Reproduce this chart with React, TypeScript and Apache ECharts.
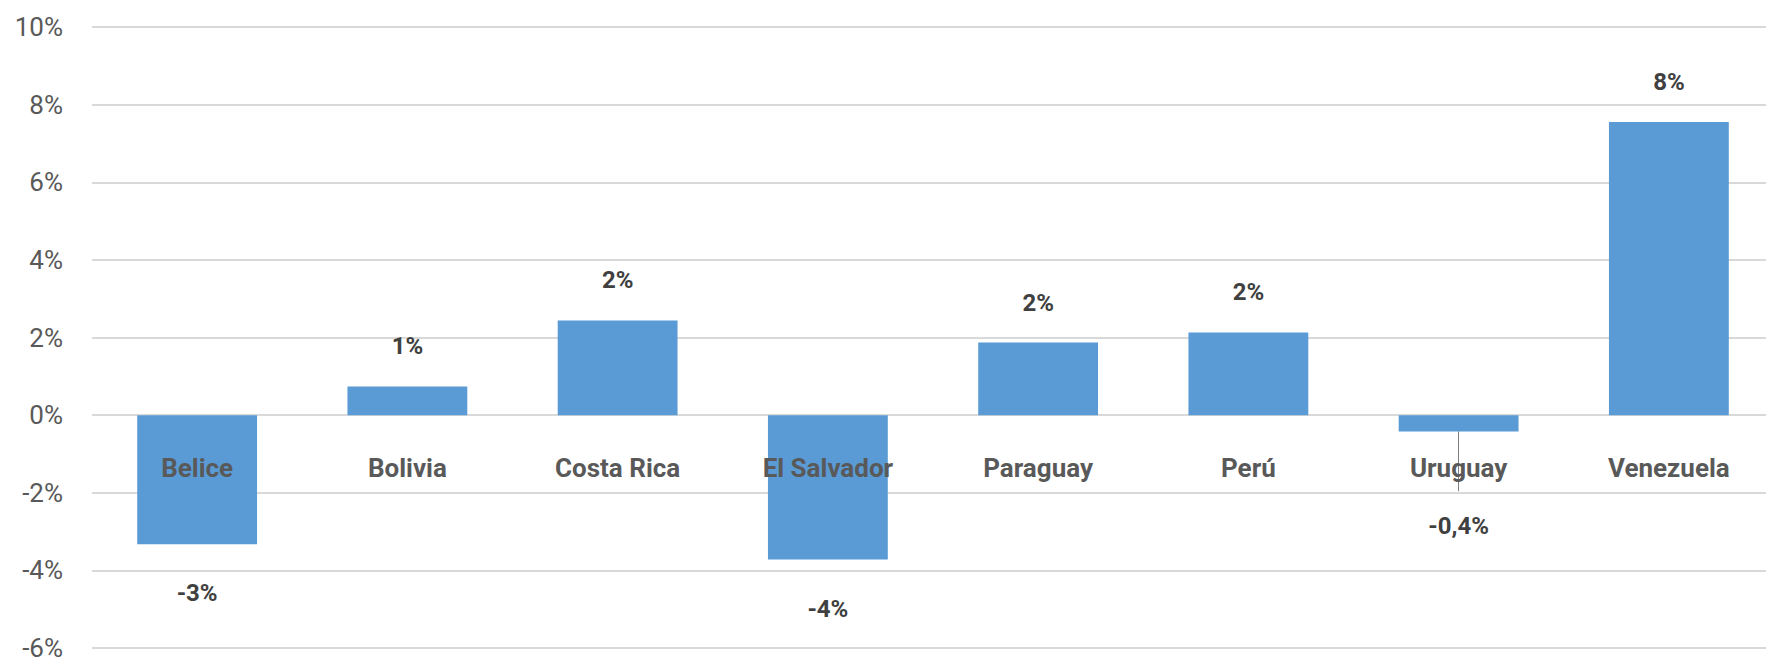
import React, { useEffect, useRef } from "react";
import * as echarts from "echarts";

const categories = ["Belice", "Bolivia", "Costa Rica", "El Salvador", "Paraguay", "Perú", "Uruguay", "Venezuela"];
const values = [-3.33, 0.74, 2.44, -3.72, 1.87, 2.13, -0.42, 7.55];
const dataLabels = ["-3%", "1%", "2%", "-4%", "2%", "2%", "-0,4%", "8%"];
const yTicks = { min: -6, max: 10, interval: 2 };
const leaderLine = { category: "Uruguay", from: -0.42, to: -1.96 };

const FONT = "Roboto, 'Noto Sans', sans-serif";

export default function App() {
  const ref = useRef<HTMLDivElement>(null);
  useEffect(() => {
    if (!ref.current) return;
    const chart = echarts.init(ref.current, undefined, { renderer: "svg" });
    const seriesData = values.map((v, i) => ({
      value: v,
      label: {
        position: v >= 0 ? "top" : "bottom",
        distance: categories[i] === leaderLine.category ? 83 : v >= 0 ? 28 : 37,
        formatter: dataLabels[i],
      },
    }));
    chart.setOption({
      animation: false,
      backgroundColor: "#ffffff",
      grid: {
        left: 92,
        right: -8,
        top: 27,
        bottom: 15,
        containLabel: false,
        outerBoundsMode: "none",
      },
      xAxis: {
        type: "category",
        data: categories,
        position: "bottom",
        offset: -233,
        z: 10,
        axisLine: { show: false, onZero: false },
        axisTick: { show: false },
        axisLabel: {
          margin: 40,
          fontSize: 26,
          fontWeight: "bold",
          color: "#595959",
          fontFamily: FONT,
          interval: 0,
        },
      },
      yAxis: {
        type: "value",
        min: yTicks.min,
        max: yTicks.max,
        interval: yTicks.interval,
        axisLine: { show: false },
        axisTick: { show: false },
        axisLabel: {
          margin: 29,
          fontSize: 26,
          color: "#595959",
          fontFamily: FONT,
          formatter: (v: number) => `${v}%`,
        },
        splitLine: { lineStyle: { color: "#d9d9d9", width: 2 } },
      },
      series: [
        {
          type: "bar",
          data: seriesData,
          barCategoryGap: "43%",
          itemStyle: { color: "#5b9bd5" },
          label: {
            show: true,
            fontSize: 24,
            fontWeight: "bold",
            color: "#404040",
            fontFamily: FONT,
          },
          markLine: {
            silent: true,
            symbol: ["none", "none"],
            label: { show: false },
            lineStyle: { color: "#7f7f7f", width: 1, type: "solid" },
            data: [
              [
                { coord: [leaderLine.category, leaderLine.from] },
                { coord: [leaderLine.category, leaderLine.to] },
              ],
            ],
          },
        },
      ],
    });
    return () => chart.dispose();
  }, []);
  return (
    <div
      ref={ref}
      style={{ position: "absolute", left: 0, top: 0, width: 1766, height: 663 }}
    />
  );
}
